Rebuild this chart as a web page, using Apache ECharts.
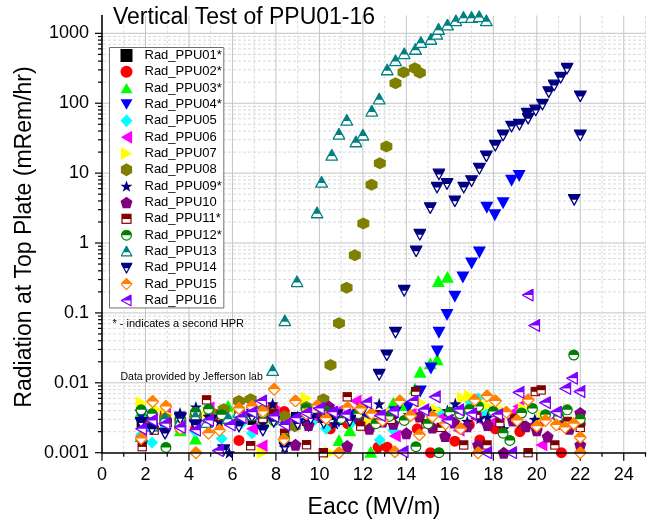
<!DOCTYPE html>
<html><head><meta charset="utf-8">
<script src="https://cdn.jsdelivr.net/npm/echarts@6/dist/echarts.min.js"></script>
<style>html,body{margin:0;padding:0;background:#fff}#c{width:652px;height:523px}</style>
</head><body><div id="c"></div>
<script>
// ---------------- DATA ----------------
const seriesNames = ['Rad_PPU01*','Rad_PPU02*','Rad_PPU03*','Rad_PPU04*','Rad_PPU05','Rad_PPU06','Rad_PPU07','Rad_PPU08','Rad_PPU09*','Rad_PPU10','Rad_PPU11*','Rad_PPU12*','Rad_PPU13','Rad_PPU14','Rad_PPU15','Rad_PPU16'];
const yTickLabels = ['0.001','0.01','0.1','1','10','100','1000'];
const xTickLabels = ['0','2','4','6','8','10','12','14','16','18','20','22','24'];

const ppu01 = [[1.8,0.0025],[2.3,0.0031],[2.9,0.0028],[3.6,0.0033],[4.3,0.0027],[4.9,0.0035],[5.5,0.003],[6.3,0.0034],[6.9,0.0029],[7.4,0.0032],[7.9,0.0036],[8.4,0.003],[8.9,0.0033],[9.4,0.0028],[10.0,0.0031],[10.5,0.0034],[11.0,0.0029],[11.6,0.0032],[12.2,0.0027]];
const ppu02 = [[1.85,0.003],[2.3,0.0024],[2.9,0.0036],[3.6,0.0028],[4.3,0.0022],[5.3,0.0035],[6.3,0.0015],[7.85,0.0045],[8.38,0.0039],[9.4,0.0032],[10.5,0.0022],[11.3,0.0026],[12.7,0.0012],[13.12,0.0012],[14.5,0.0022],[15.11,0.001],[16.23,0.00146],[16.9,0.0025],[17.38,0.00152],[18.1,0.0022],[19.22,0.002],[20.2,0.0028],[21.13,0.001],[22.0,0.0026]];
const ppu03 = [[1.8,0.0039],[2.3,0.0028],[2.9,0.0033],[3.6,0.0021],[4.3,0.0016],[4.9,0.0045],[5.8,0.0047],[6.4,0.0038],[6.9,0.0042],[7.4,0.0029],[7.9,0.0036],[8.4,0.0033],[9.4,0.0041],[10.2,0.0044],[10.9,0.00152],[11.4,0.0021],[12.36,0.00103],[12.9,0.0034],[13.4,0.0052],[13.9,0.0048],[14.4,0.0083],[14.63,0.0144],[15.1,0.019],[15.42,0.0217],[15.47,0.286],[15.89,0.33]];
const ppu04 = [[1.8,0.0034],[2.3,0.0029],[2.9,0.0022],[3.6,0.0031],[4.3,0.0027],[4.9,0.0024],[5.5,0.0033],[6.3,0.0028],[6.9,0.0035],[7.4,0.0026],[7.9,0.0031],[8.4,0.0027],[9.0,0.003],[9.5,0.0024],[10.2,0.0032],[10.9,0.0028],[11.5,0.0035],[12.2,0.003],[12.8,0.0033],[13.5,0.0038],[14.1,0.0045],[14.64,0.0075],[15.13,0.016],[15.42,0.028],[15.5,0.052],[15.87,0.093],[16.23,0.17],[16.6,0.32],[17.0,0.51],[17.36,0.73],[17.7,3.2],[18.07,2.5],[18.45,3.7],[18.84,7.8],[19.19,9.1]];
const ppu05 = [[1.8,0.0018],[2.3,0.0014],[2.9,0.0022],[3.6,0.0026],[4.3,0.002],[4.9,0.0031],[5.5,0.0016],[5.8,0.0031],[6.4,0.0026],[6.9,0.0019],[7.4,0.0023],[8.0,0.0029],[8.6,0.0024],[9.2,0.0033],[9.7,0.0028],[10.3,0.0022],[10.9,0.0035],[11.5,0.0027],[12.2,0.0024],[12.78,0.00152],[13.4,0.0021],[15.5,0.0038],[16.9,0.0055],[17.3,0.006],[17.6,0.0038]];
const ppu06 = [[1.8,0.0017],[2.3,0.0033],[2.9,0.0041],[3.6,0.0024],[4.3,0.0031],[4.9,0.0044],[5.5,0.0029],[6.3,0.0036],[6.9,0.0022],[7.34,0.00126],[7.9,0.0038],[8.5,0.0026],[9.4,0.0034],[10.0,0.003],[10.8,0.0039],[11.66,0.0055],[12.4,0.0029],[13.47,0.00173],[14.2,0.0036],[15.0,0.0027],[15.7,0.0033],[16.4,0.0021],[17.2,0.0031],[18.0,0.0028],[18.8,0.0036],[19.15,0.0046],[19.8,0.0025],[20.21,0.00129],[20.9,0.0031]];
const ppu07 = [[1.82,0.0052],[2.5,0.0041],[3.0,0.0035],[4.9,0.0037],[5.6,0.0028],[6.3,0.0033],[7.39,0.001],[8.0,0.0029],[9.41,0.006],[10.5,0.001],[11.2,0.0032],[12.3,0.0027],[13.3,0.0036],[14.67,0.0052],[15.4,0.0041],[16.6,0.006],[16.92,0.0065],[17.7,0.0047],[18.5,0.0039],[19.4,0.0043],[20.3,0.0033]];
const ppu08 = [[2.3,0.0026],[2.9,0.0031],[3.6,0.0029],[4.3,0.0033],[5.0,0.0038],[5.6,0.0042],[6.3,0.0055],[6.84,0.0058],[7.4,0.0041],[7.9,0.0037],[8.4,0.0033],[8.87,0.0024],[9.4,0.0045],[10.18,0.0058],[10.51,0.018],[10.9,0.071],[11.25,0.23],[11.63,0.67],[12.02,1.9],[12.4,6.8],[12.78,13.8],[13.08,24],[13.5,193],[13.87,277],[14.39,316],[14.62,273]];
const ppu09 = [[3.59,0.0037],[4.32,0.0045],[4.9,0.0033],[5.4,0.0028],[5.85,0.001],[6.4,0.0031],[6.9,0.0034],[7.4,0.0027],[7.85,0.005],[8.4,0.0012],[9.0,0.0033],[9.5,0.0029],[10.1,0.0039],[10.7,0.0026],[11.3,0.0036],[11.9,0.0042],[12.75,0.005],[13.4,0.0031],[14.1,0.0035],[15.1,0.0039],[15.89,0.004],[16.25,0.005],[16.8,0.0028],[17.38,0.0031],[17.74,0.0032],[18.48,0.0022],[19.25,0.0027],[19.91,0.003]];
const ppu10 = [[8.9,0.0013],[9.5,0.0025],[10.1,0.0034],[10.44,0.0046],[11.28,0.00125],[11.8,0.0031],[12.3,0.0022],[12.9,0.0028],[13.4,0.0026],[14.0,0.0019],[14.6,0.0033],[15.2,0.0023],[15.78,0.00173],[16.2,0.0027],[16.8,0.0024],[17.3,0.00129],[17.74,0.0025],[18.48,0.001],[18.9,0.0029],[19.5,0.0024],[20.0,0.0021],[20.5,0.0017],[21.0,0.0026],[21.5,0.0022],[22.0,0.0037],[22.0,0.00129]];
const ppu11 = [[1.85,0.00122],[2.4,0.0021],[3.0,0.0027],[3.6,0.0023],[4.81,0.0057],[5.5,0.0033],[6.3,0.0039],[6.84,0.00126],[7.4,0.0031],[7.9,0.0036],[8.4,0.0019],[9.41,0.0013],[10.18,0.001],[11.28,0.0063],[11.9,0.0024],[12.6,0.0035],[13.3,0.003],[14.43,0.0075],[14.9,0.0026],[15.6,0.0023],[16.64,0.00129],[17.2,0.0035],[17.71,0.00129],[18.3,0.0027],[19.0,0.0031],[19.6,0.001],[19.93,0.0075],[20.2,0.0079],[20.83,0.00129],[21.4,0.0028],[22.0,0.0023]];
const ppu12 = [[1.8,0.0041],[2.3,0.0036],[2.94,0.00119],[3.6,0.0031],[4.3,0.0038],[4.9,0.0042],[5.5,0.0035],[6.3,0.0028],[6.9,0.0033],[7.4,0.0037],[7.9,0.0029],[8.4,0.0016],[9.4,0.0043],[10.3,0.0039],[11.0,0.0031],[11.8,0.0036],[12.6,0.0026],[13.2,0.0033],[13.9,0.0029],[14.44,0.00122],[15.0,0.0026],[15.5,0.001],[16.0,0.0038],[16.46,0.0036],[16.9,0.0042],[17.32,0.0046],[18.0,0.0039],[18.45,0.0019],[18.76,0.0015],[19.3,0.0037],[19.8,0.0043],[20.4,0.0035],[21.0,0.0033],[21.4,0.0041],[21.7,0.025],[22.0,0.003]];
const ppu13 = [[1.82,0.0017],[2.3,0.0024],[2.9,0.0031],[3.6,0.0028],[4.3,0.0033],[4.81,0.0027],[5.8,0.0031],[6.3,0.0038],[7.0,0.0045],[7.85,0.015],[8.41,0.077],[8.97,0.28],[9.89,2.7],[10.1,7.4],[10.57,18],[10.9,36],[11.26,57],[11.68,28],[12.0,35],[12.41,77],[12.75,115],[13.12,300],[13.5,405],[13.9,510],[14.42,590],[14.67,740],[15.13,820],[15.4,970],[15.48,1140],[15.89,1315],[16.28,1510],[16.63,1690],[17.0,1690],[17.35,1730],[17.68,1510]];
const ppu14 = [[1.8,0.0027],[2.3,0.0022],[2.9,0.0019],[3.6,0.0031],[4.3,0.0025],[5.0,0.0029],[5.6,0.0011],[6.3,0.0024],[6.9,0.0033],[7.4,0.0021],[7.9,0.0028],[8.41,0.0012],[9.0,0.0026],[9.6,0.0031],[10.2,0.0027],[10.8,0.0035],[11.4,0.0029],[12.0,0.0041],[12.75,0.0132],[13.1,0.025],[13.5,0.053],[13.9,0.21],[14.45,0.77],[14.62,1.33],[15.1,3.2],[15.41,6.3],[15.5,9.7],[15.87,7.1],[16.23,4.0],[16.64,6.3],[17.0,7.8],[17.36,11.7],[17.68,17.6],[18.09,25],[18.45,35],[18.84,47],[19.2,50],[19.56,72],[19.6,61],[19.95,80],[20.26,97],[20.55,146],[20.8,182],[21.1,235],[21.39,316],[21.72,4.2],[22.0,127],[22.0,35]];
const ppu15 = [[1.8,0.0016],[2.33,0.0054],[2.94,0.0046],[3.6,0.0022],[4.32,0.001],[4.9,0.0019],[5.4,0.0021],[6.3,0.0043],[6.9,0.0046],[7.4,0.0039],[7.92,0.0081],[8.37,0.00155],[8.9,0.0055],[9.4,0.0036],[9.9,0.0047],[10.3,0.0031],[10.9,0.001],[11.3,0.0044],[11.9,0.0043],[12.4,0.0036],[12.9,0.0029],[13.47,0.00103],[13.7,0.0055],[14.2,0.0034],[14.6,0.0018],[15.2,0.0033],[15.8,0.0026],[16.5,0.0022],[17.15,0.0057],[17.3,0.001],[17.71,0.0065],[18.1,0.0055],[18.6,0.0038],[19.1,0.0029],[19.6,0.0057],[20.0,0.0024],[20.4,0.0029],[20.9,0.0025],[21.3,0.0023],[21.7,0.0026],[22.0,0.001],[22.0,0.00166]];
const ppu16 = [[1.82,0.0022],[2.3,0.0029],[2.9,0.0026],[3.6,0.0023],[4.3,0.0021],[4.9,0.0029],[5.35,0.00107],[5.9,0.0025],[6.4,0.0032],[6.9,0.0038],[7.34,0.0055],[7.9,0.0033],[8.4,0.0025],[8.9,0.0031],[9.4,0.0037],[10.0,0.0043],[10.6,0.0038],[11.2,0.0035],[12.17,0.0052],[12.8,0.0034],[13.4,0.0039],[13.85,0.00103],[14.31,0.0055],[14.8,0.0041],[15.33,0.0063],[15.9,0.0029],[16.4,0.0041],[17.0,0.0036],[17.69,0.001],[18.2,0.0035],[18.84,0.001],[19.18,0.0073],[19.6,0.18],[19.9,0.066],[20.4,0.0052],[20.9,0.0038],[21.33,0.0083],[21.64,0.0116],[21.98,0.0075]];
const allData = [ppu01,ppu02,ppu03,ppu04,ppu05,ppu06,ppu07,ppu08,ppu09,ppu10,ppu11,ppu12,ppu13,ppu14,ppu15,ppu16];

// ---------------- STYLE ----------------
const FONT = 'Liberation Sans, Arial, Helvetica, sans-serif';
const X_MIN = 0, X_MAX = 25, Y_MIN = 0.001, Y_MAX = 1800;

function halfSym(shape, color) {
  let outline = '', half = '';
  if (shape === 'square') { outline = '<rect x="3" y="3" width="18" height="18"/>'; half = '<rect x="3" y="3" width="18" height="9.5"/>'; }
  if (shape === 'circle') { outline = '<circle cx="12" cy="12" r="9.8"/>'; half = '<path d="M2.2,12 A9.8,9.8 0 0 1 21.8,12 Z"/>'; }
  if (shape === 'up') { outline = '<polygon points="12,1.5 22.8,21 1.2,21"/>'; half = '<polygon points="12,1.5 18.6,13.5 5.4,13.5"/>'; }
  if (shape === 'down') { outline = '<polygon points="1.2,3 22.8,3 12,22.5"/>'; half = '<polygon points="1.2,3 22.8,3 17.4,12.75 6.6,12.75"/>'; }
  if (shape === 'diamond') { outline = '<polygon points="12,1 23,12 12,23 1,12"/>'; half = '<polygon points="12,1 23,12 1,12"/>'; }
  if (shape === 'left') { outline = '<polygon points="1.5,12 21,1.2 21,22.8"/>'; half = '<polygon points="1.5,12 21,1.2 21,12"/>'; }
  const svg = '<svg xmlns="http://www.w3.org/2000/svg" width="48" height="48" viewBox="0 0 24 24">' +
    '<g fill="#ffffff" stroke="none">' + outline + '</g>' +
    '<g fill="' + color + '" stroke="none">' + half + '</g>' +
    '<g fill="none" stroke="' + color + '" stroke-width="2.4" stroke-linejoin="miter">' + outline + '</g></svg>';
  return 'image://data:image/svg+xml;charset=utf-8,' + encodeURIComponent(svg);
}

const P_UP = 'path://M11,0L22,19L0,19Z';
const P_DOWN = 'path://M0,0L22,0L11,19Z';
const P_LEFT = 'path://M0,11L19,0L19,22Z';
const P_RIGHT = 'path://M19,11L0,0L0,22Z';
const P_STAR = 'path://M12,0.5L14.9,8.6L23.5,8.8L16.7,14L19.1,22.3L12,17.4L4.9,22.3L7.3,14L0.5,8.8L9.1,8.6Z';
const P_PENT = 'path://M12,1L23,9L18.8,22L5.2,22L1,9Z';
const P_HEX = 'path://M12,1L21.5,6.5L21.5,17.5L12,23L2.5,17.5L2.5,6.5Z';

const styles = [
  {symbol:'rect', size:9, color:'#000000'},
  {symbol:'circle', size:11, color:'#ff0000'},
  {symbol:P_UP, size:[13,12], color:'#00ff00'},
  {symbol:P_DOWN, size:[13,12], color:'#0000ff'},
  {symbol:'diamond', size:12, color:'#00ffff'},
  {symbol:P_LEFT, size:[12,13], color:'#ff00ff'},
  {symbol:P_RIGHT, size:[12,13], color:'#ffff00'},
  {symbol:P_HEX, size:12, color:'#808000'},
  {symbol:P_STAR, size:12, color:'#000080'},
  {symbol:P_PENT, size:12, color:'#800080'},
  {symbol:halfSym('square','#800000'), size:11, color:'#800000'},
  {symbol:halfSym('circle','#008000'), size:12, color:'#008000'},
  {symbol:halfSym('up','#008080'), size:13, color:'#008080'},
  {symbol:halfSym('down','#000080'), size:13, color:'#000080'},
  {symbol:halfSym('diamond','#ff8000'), size:13, color:'#ff8000'},
  {symbol:halfSym('left','#8000ff'), size:13, color:'#8000ff'}
];

const scatterSeries = seriesNames.map(function(name, i) {
  return {
    type: 'scatter', name: name, data: allData[i],
    symbol: styles[i].symbol, symbolSize: styles[i].size,
    itemStyle: {color: styles[i].color, opacity: 1},
    emphasis: {disabled: true}, z: 2
  };
});

// grid lines & ticks drawn through the axes' scales
const gridSeries = {
  type: 'custom', coordinateSystem: 'cartesian2d', data: [[1, 0.01]], silent: true, clip: false, z: 1,
  renderItem: function(params, api) {
    const ch = [];
    const bottom = api.coord([X_MIN, Y_MIN])[1];
    const top = api.coord([X_MIN, Y_MAX])[1];
    const left = api.coord([X_MIN, Y_MIN])[0];
    const right = api.coord([X_MAX, Y_MIN])[0];
    for (let k = -3; k <= 3; k++) {
      for (let m = 1; m <= 9; m++) {
        const v = m * Math.pow(10, k);
        if (v > Y_MAX * 1.0001) continue;
        const y = api.coord([X_MIN, v])[1];
        if (!(k === -3 && m === 1)) {
          ch.push({type:'line', shape:{x1:left+1, y1:y, x2:right, y2:y},
            style: m === 1 ? {stroke:'#c4c4c4', lineWidth:1} : {stroke:'#d9d9d9', lineWidth:1, lineDash:[3,2]}});
        }
        ch.push({type:'line', shape:{x1:left - (m === 1 ? 7 : 4), y1:y, x2:left, y2:y}, style:{stroke:'#000', lineWidth:1.2}, z2: 10});
      }
    }
    for (let i = 0; i <= 25; i++) {
      const x = api.coord([i, Y_MIN])[0];
      if (i > 0) {
        ch.push({type:'line', shape:{x1:x, y1:top, x2:x, y2:bottom-1},
          style: i % 2 === 0 ? {stroke:'#c4c4c4', lineWidth:1} : {stroke:'#d9d9d9', lineWidth:1, lineDash:[3,2]}});
      }
      ch.push({type:'line', shape:{x1:x, y1:bottom, x2:x, y2:bottom + (i % 2 === 0 ? 8 : 4)}, style:{stroke:'#000', lineWidth:1.2}, z2: 10});
    }
    return {type:'group', children: ch};
  }
};

const chart = echarts.init(document.getElementById('c'), null, {renderer:'canvas'});
chart.setOption({
  animation: false,
  backgroundColor: '#ffffff',
  grid: {left: 102, right: 6.5, top: 15.5, bottom: 70.3, containLabel: false},
  xAxis: {
    type: 'value', min: X_MIN, max: X_MAX, interval: 2,
    axisLine: {show: true, onZero: false, lineStyle: {color: '#000', width: 1.6}},
    axisTick: {show: false}, splitLine: {show: false}, z: 3,
    axisLabel: {fontSize: 18, color: '#000', fontFamily: FONT, margin: 13, showMaxLabel: false,
      formatter: function(v){ const s = String(v); return xTickLabels.indexOf(s) >= 0 ? s : ''; }}
  },
  yAxis: {
    type: 'log', logBase: 10, min: Y_MIN, max: Y_MAX,
    axisLine: {show: true, onZero: false, lineStyle: {color: '#000', width: 1.6}},
    axisTick: {show: false}, splitLine: {show: false}, minorTick: {show: false}, z: 3,
    axisLabel: {fontSize: 18, color: '#000', fontFamily: FONT, margin: 13, showMaxLabel: false,
      formatter: function(v){
        const e = Math.round(Math.log10(v));
        const s = yTickLabels[e + 3];
        return (s !== undefined && Math.abs(Math.log10(v) - e) < 1e-6) ? s : '';
      }}
  },
  legend: {
    orient: 'vertical', left: 109.5, top: 47.5, padding: [1.5, 2, 1, 11],
    itemWidth: 12, itemHeight: 13, itemGap: 3.33,
    backgroundColor: '#ffffff', borderColor: '#707070', borderWidth: 1, borderRadius: 0,
    textStyle: {fontSize: 13, color: '#000', fontFamily: FONT, padding: [0, 0, 0, 7]},
    data: seriesNames, selectedMode: false, z: 5
  },
  graphic: [
    {type:'text', left: 113, top: 6, z: 10, style: {text: 'Vertical Test of PPU01-16', font: '23px ' + FONT, fill: '#000'}},
    {type:'text', x: 25, y: 237, rotation: Math.PI/2, z: 10, style: {text: 'Radiation at Top Plate (mRem/hr)', font: '23px ' + FONT, fill: '#000', align: 'center', verticalAlign: 'middle'}},
    {type:'text', x: 374, y: 508, z: 10, style: {text: 'Eacc (MV/m)', font: '23px ' + FONT, fill: '#000', align: 'center', verticalAlign: 'middle'}},
    {type:'text', x: 112.5, y: 323.5, z: 10, style: {text: '* - indicates a second HPR', font: '11px ' + FONT, fill: '#000', verticalAlign: 'middle'}},
    {type:'text', x: 120.5, y: 377.5, z: 10, style: {text: 'Data provided by Jefferson lab', font: '10.5px ' + FONT, fill: '#000', verticalAlign: 'middle'}}
  ],
  series: [gridSeries].concat(scatterSeries)
});
</script>
</body></html>
